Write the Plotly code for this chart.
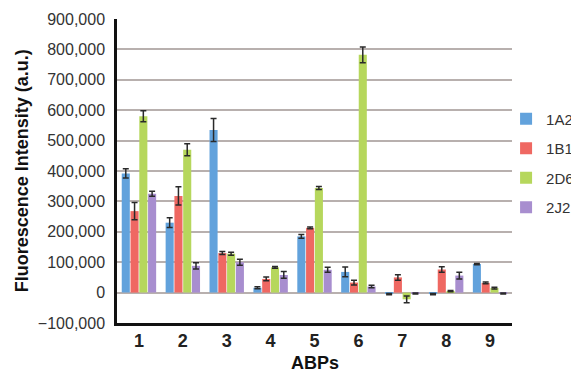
import plotly.graph_objects as go

categories = ["1", "2", "3", "4", "5", "6", "7", "8", "9"]
series_names = ["1A2", "1B1", "2D6", "2J2"]
v_1A2 = [392000, 230000, 535000, 16000, 185000, 68000, -5000, -5000, 94000]
e_1A2 = [15000, 16000, 38000, 3000, 6000, 16000, 2000, 2000, 2000]
v_1B1 = [268000, 318000, 130000, 45000, 213000, 33000, 50000, 76000, 32000]
e_1B1 = [28000, 30000, 5000, 6000, 3000, 8000, 9000, 9000, 3000]
v_2D6 = [580000, 470000, 128000, 83000, 344000, 782000, -22000, 5000, 15000]
e_2D6 = [18000, 20000, 5000, 3000, 5000, 26000, 11000, 2000, 3000]
v_2J2 = [325000, 88000, 100000, 58000, 75000, 20000, -3000, 56000, -3000]
e_2J2 = [8000, 10000, 10000, 11000, 8000, 4000, 2000, 11000, 2000]
y_ticks = [-100000, 0, 100000, 200000, 300000, 400000, 500000, 600000, 700000, 800000, 900000]

colors = ["#62a2dc", "#ef6862", "#b6d75c", "#a88ecf"]
values = [v_1A2, v_1B1, v_2D6, v_2J2]
errors = [e_1A2, e_1B1, e_2D6, e_2J2]

fig = go.Figure()
for name, v, e, c in zip(series_names, values, errors, colors):
    fig.add_trace(go.Bar(
        x=categories, y=v, name=name, legendgroup=name,
        marker=dict(color=c, line=dict(width=0)),
        error_y=dict(type="data", array=e, visible=True, color="#2a2a2a",
                     thickness=1.5, width=3),
    ))

fig.update_layout(
    width=571, height=368,
    margin=dict(l=109, r=67, t=11, b=53, autoexpand=False),
    paper_bgcolor="white", plot_bgcolor="white",
    barmode="group", bargap=0.2, bargroupgap=0.08,
    font=dict(family="Liberation Sans, Arial, sans-serif", color="#222"),
    showlegend=True,
    legend=dict(x=0.985, xanchor="left", y=0.725, yanchor="top",
                traceorder="grouped", tracegroupgap=7,
                font=dict(size=15, color="#333"), bgcolor="rgba(0,0,0,0)",
                itemwidth=30),
    xaxis=dict(showline=True, linecolor="#111", linewidth=2.5, ticks="",
               tickfont=dict(size=18, weight="bold", color="#222"),
               showgrid=False, zeroline=False),
    yaxis=dict(range=[-100000, 900000], tickvals=y_ticks, tickformat=",d",
               showline=True, linecolor="#111", linewidth=2.5,
               showgrid=True, gridcolor="#b8b0ae", gridwidth=1.5,
               zeroline=True, zerolinecolor="#b8b0ae", zerolinewidth=1.5,
               ticks="", tickfont=dict(size=16, color="#333"),
               ticklabelstandoff=6),
    annotations=[
        dict(text="ABPs", x=0.5, y=-0.172, xref="paper", yref="paper",
             yanchor="bottom", showarrow=False,
             font=dict(size=18, weight="bold", color="#111")),
        dict(text="Fluorescence Intensity (a.u.)", textangle=-90,
             x=-0.24, y=0.5, xref="paper", yref="paper", xanchor="center",
             showarrow=False, font=dict(size=18, weight="bold", color="#111")),
    ],
)

fig.write_html("out.html")
